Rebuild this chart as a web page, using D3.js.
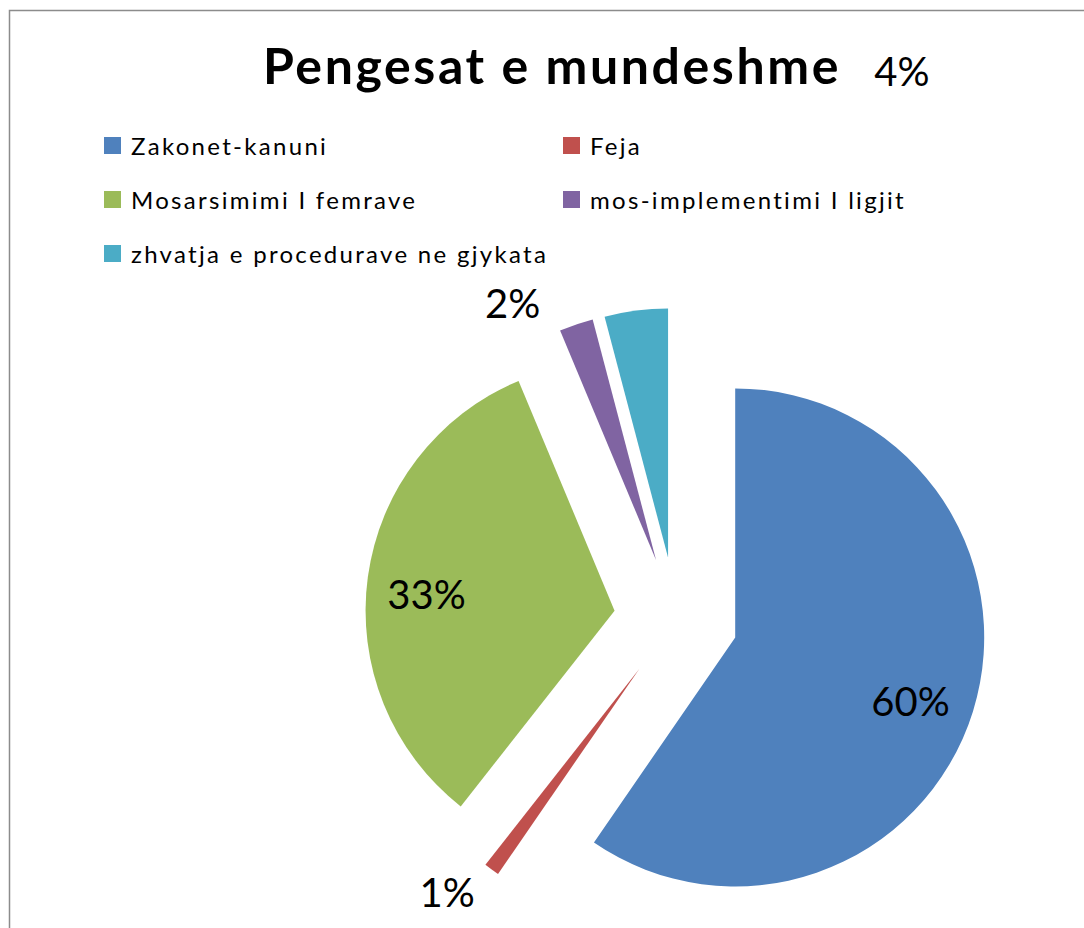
<!DOCTYPE html>
<html>
<head>
<meta charset="utf-8">
<script src="https://cdn.jsdelivr.net/npm/d3@7"></script>
<style>
  html, body { margin: 0; padding: 0; background: #fff; }
  svg { display: block; }
  text { font-family: Lato, "Open Sans", sans-serif; fill: #000; }
</style>
</head>
<body>
<svg id="chart" width="1084" height="928"></svg>
<script>
const title = "Pengesat e mundeshme";
const categories = ["Zakonet-kanuni", "Feja", "Mosarsimimi I femrave", "mos-implementimi I ligjit", "zhvatja e procedurave ne gjykata"];
const values = [59.6, 1.0, 33.1, 2.2, 4.1];
const colors = ["#4F81BD", "#C0504D", "#9BBB59", "#8064A2", "#4BACC6"];
const labelMode = ["in", "out", "in", "out", "out"];
// outside label placement: [angle in degrees clockwise from top, distance in radii from pie centre]
const outsideLabelPolar = [null, [220, 1.43], null, [332.7, 1.43], [22.4, 2.38]];

const W = 1084, H = 928;
const svg = d3.select("#chart");

// chart border (cropped on right and bottom)
svg.append("rect")
  .attr("x", 9.5).attr("y", 10.5)
  .attr("width", 1200).attr("height", 1000)
  .attr("fill", "none").attr("stroke", "#8c8c8c").attr("stroke-width", 1.5);

// title
svg.append("text")
  .attr("x", 552).attr("y", 84)
  .attr("text-anchor", "middle")
  .attr("font-weight", "bold")
  .attr("font-size", 50)
  .attr("letter-spacing", 2.6)
  .text(title);

// legend
const legendPos = [[104, 146], [563, 146], [104, 200], [563, 200], [104, 254]];
const lg = svg.append("g");
categories.forEach((c, i) => {
  const [x, y] = legendPos[i];
  lg.append("rect").attr("x", x).attr("y", y - 9).attr("width", 17).attr("height", 17).attr("fill", colors[i]);
  lg.append("text").attr("x", x + 27).attr("y", y + 9).attr("font-size", 24)
    .attr("letter-spacing", 2.3).text(c);
});

// pie
const cx = 676, cy = 619, r = 249, explode = 62;
const pie = d3.pie().sort(null).value(d => d)(values);
const arc = d3.arc().innerRadius(0).outerRadius(r);
const labelArc = d3.arc().innerRadius(r * 0.75).outerRadius(r * 0.75);

const g = svg.append("g").attr("transform", `translate(${cx},${cy})`);
pie.forEach((p, i) => {
  const mid = (p.startAngle + p.endAngle) / 2;
  const dx = explode * Math.sin(mid), dy = -explode * Math.cos(mid);
  g.append("path")
    .attr("d", arc(p))
    .attr("transform", `translate(${dx},${dy})`)
    .attr("fill", colors[i]);
  let lx, ly;
  if (labelMode[i] === "in") {
    const c = labelArc.centroid(p);
    lx = c[0] + dx - 3; ly = c[1] + dy + 8;
  } else {
    const [a, f] = outsideLabelPolar[i];
    const rad = a * Math.PI / 180;
    lx = f * r * Math.sin(rad); ly = -f * r * Math.cos(rad);
  }
  g.append("text")
    .attr("x", lx).attr("y", ly)
    .attr("text-anchor", "middle")
    .attr("dominant-baseline", "central")
    .attr("font-size", 40)
    .text(Math.round(values[i]) + "%");
});
</script>
</body>
</html>
